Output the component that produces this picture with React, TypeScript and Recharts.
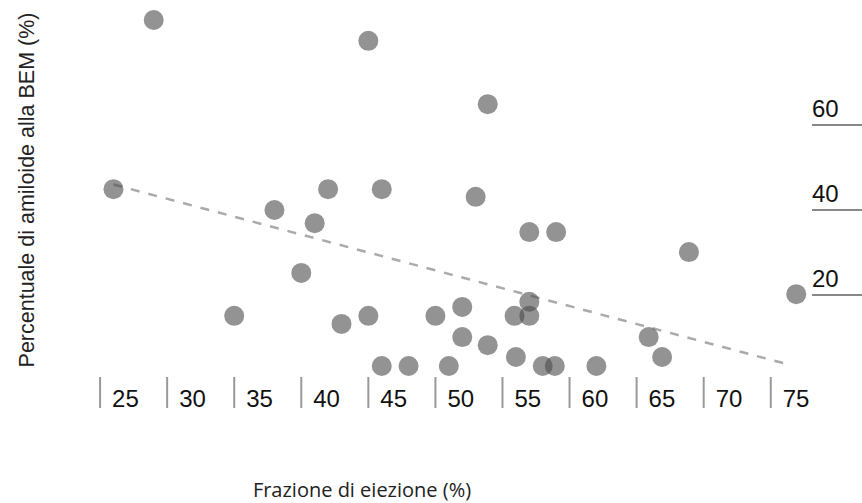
import React from 'react';
import { ScatterChart, Scatter, XAxis, YAxis, ReferenceLine, Customized } from 'recharts';

// ejection fraction (%) of each patient
const ejectionFraction = [
  29, 45, 53.9, 26, 42, 46, 53, 38, 41, 57, 59, 68.9, 40, 76.9, 35, 43, 45,
  50, 52, 55.9, 57, 57, 52, 53.9, 65.9, 56, 66.9, 46, 48, 51, 58, 58.9, 62,
];
// amyloid percentage on the endomyocardial biopsy
const amyloidPct = [
  84.7, 79.8, 64.9, 44.9, 44.9, 44.9, 43.1, 40, 36.9, 34.8, 34.8, 30.1, 25.2,
  20.2, 15.1, 13.2, 15.1, 15.1, 17.2, 15.1, 18.4, 15.1, 10.1, 8.2, 10.1, 5.4,
  5.4, 3.3, 3.3, 3.3, 3.3, 3.3, 3.3,
];
const xTicks = [25, 30, 35, 40, 45, 50, 55, 60, 65, 70, 75];
const yTicks = [20, 40, 60];
// regression line end points [x, y]
const trendStart = [26, 46];
const trendEnd = [76.5, 3.5];

const points = ejectionFraction.map((x, i) => ({ x, y: amyloidPct[i] }));

const XTick = (props: any) => {
  const { x, y, payload } = props;
  return (
    <g>
      <line x1={x} x2={x} y1={y - 3} y2={y + 28} stroke="#999" strokeWidth={2} />
      <text x={x + 12} y={y + 27} fontSize={24} fill="#111" fontFamily="Liberation Sans, Arial, sans-serif">
        {payload.value}
      </text>
    </g>
  );
};

const YTick = (props: any) => {
  const { x, y, payload } = props;
  return (
    <g>
      <line x1={x + 1} x2={x + 60} y1={y} y2={y} stroke="#888" strokeWidth={2} />
      <text x={x + 1} y={y - 8} fontSize={24} fill="#111" fontFamily="Liberation Sans, Arial, sans-serif">
        {payload.value}
      </text>
    </g>
  );
};

const Titles = () => (
  <g>
    <text
      x={362}
      y={497}
      textAnchor="middle"
      fontSize={20}
      fill="#222"
      fontFamily="Open Sans, sans-serif"
    >
      Frazione di eiezione (%)
    </text>
    <text
      x={34}
      y={190}
      textAnchor="middle"
      transform="rotate(-90 34 190)"
      fontSize={21.5}
      fill="#222"
      fontFamily="Liberation Sans, Arial, sans-serif"
    >
      Percentuale di amiloide alla BEM (%)
    </text>
  </g>
);

const Dot = (props: any) => (
  <circle cx={props.cx} cy={props.cy} r={10} fill="#4b4b4b" fillOpacity={0.6} />
);

export default function App() {
  return (
    <div style={{ position: 'absolute', left: 0, top: 0, background: '#fff' }}>
      <ScatterChart width={862} height={503} margin={{ top: 6, right: 0, bottom: 0, left: 33 }}>
        <XAxis
          type="number"
          dataKey="x"
          domain={[20, 78]}
          ticks={xTicks}
          axisLine={false}
          tickLine={false}
          tickSize={0}
          tickMargin={0}
          height={123}
          tick={<XTick />}
        />
        <YAxis
          type="number"
          dataKey="y"
          orientation="right"
          domain={[0, 88]}
          ticks={yTicks}
          axisLine={false}
          tickLine={false}
          tickSize={0}
          tickMargin={0}
          width={51}
          tick={<YTick />}
        />
        <ReferenceLine
          segment={[
            { x: trendStart[0], y: trendStart[1] },
            { x: trendEnd[0], y: trendEnd[1] },
          ]}
          stroke="#aaa"
          strokeWidth={2.5}
          strokeDasharray="9 9"
          ifOverflow="visible"
        />
        <Scatter data={points} isAnimationActive={false} shape={<Dot />} />
        <Customized component={<Titles />} />
      </ScatterChart>
    </div>
  );
}
